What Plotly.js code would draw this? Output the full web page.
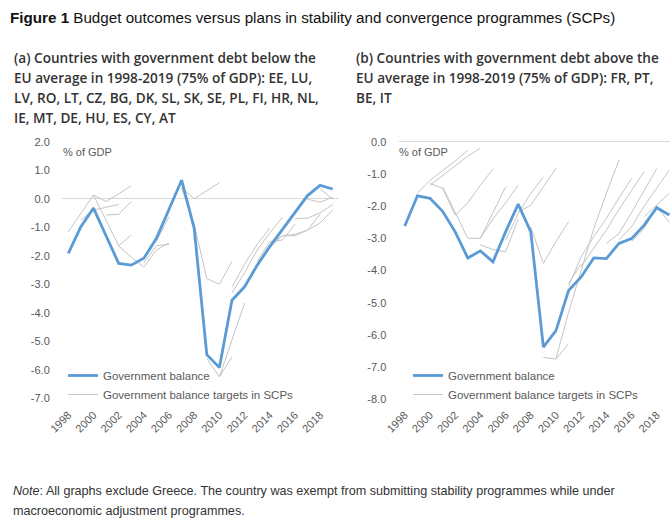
<!DOCTYPE html>
<html>
<head>
<meta charset="utf-8">
<script src="https://cdn.plot.ly/plotly-3.0.1.min.js"></script>
<style>
  html, body { margin: 0; padding: 0; background: #fff; overflow: hidden; }
  #chart { width: 670px; height: 521px; }
</style>
</head>
<body>
<div id="chart"></div>
<script>
// ---- data ----
const years = [1998,1999,2000,2001,2002,2003,2004,2005,2006,2007,2008,2009,2010,2011,2012,2013,2014,2015,2016,2017,2018,2019];
const balanceBelow = [-1.92,-0.98,-0.33,-1.28,-2.27,-2.33,-2.09,-1.39,-0.39,0.65,-1.04,-5.47,-5.92,-3.56,-3.09,-2.33,-1.68,-1.09,-0.51,0.11,0.47,0.34];
const balanceAbove = [-2.62,-1.68,-1.76,-2.16,-2.8,-3.61,-3.39,-3.73,-2.8,-1.94,-2.8,-6.38,-5.87,-4.62,-4.2,-3.61,-3.63,-3.16,-3.01,-2.59,-2.05,-2.28];

const belowTargetStart = [1998,1999,2000,2000,2001,2002,2004,2005,2007,2007,2009,2010,2011,2011,2012,2013,2014,2015,2016,2017,2018];
const belowTargetValues = [
  [-1.16,-0.5,0.13],
  [-0.75,-0.4,-0.3,-0.2],
  [0.13,-0.1,0.17,0.46],
  [0.13,-0.76,-1.65,-2.05,-2.4,-1.8,-1.55],
  [-0.57,-0.55,-0.1],
  [-1.65,-1.27],
  [-2.25,-1.65,-1.6],
  [-1.5,-0.63],
  [0.38,0.0,0.28,0.56],
  [0.38,-0.9,-2.8,-3.0,-2.2],
  [-5.6,-6.25,-5.55],
  [-6.25,-4.95,-3.66],
  [-3.3,-2.6,-1.8,-1.2,-0.65],
  [-3.1,-2.3,-1.6,-1.03],
  [-3.1,-2.4,-1.7,-1.3],
  [-2.2,-1.5,-1.45,-0.9],
  [-1.6,-1.3,-1.25,-1.1,-0.55],
  [-1.3,-1.3,-1.1,-0.85,-0.4],
  [-0.7,-0.68,-0.5,-0.2],
  [-0.02,-0.12,0.05],
  [0.35,-0.02]
];

const aboveTargetStart = [1999,2000,2000,2001,2004,2004,2006,2007,2008,2009,2010,2011,2011,2012,2014,2015,2016,2017];
const aboveTargetValues = [
  [-1.6,-1.2,-0.9,-0.6,-0.26],
  [-1.35,-1.05,-0.75,-0.45,-0.2],
  [-1.3,-1.45,-2.28,-1.9,-1.35,-0.85],
  [-1.4,-2.2,-3.0,-3.0,-2.2,-1.4],
  [-3.0,-2.4,-1.9,-1.35],
  [-3.2,-3.35,-3.42,-2.4],
  [-3.06,-2.23,-1.61,-1.09],
  [-2.18,-1.97,-1.4,-0.83],
  [-2.65,-3.78,-3.1,-2.48],
  [-6.7,-6.75,-6.27],
  [-6.73,-5.3,-4.0,-2.7,-1.6,-0.57],
  [-4.5,-3.57,-2.95,-2.38,-1.75,-1.14],
  [-4.4,-3.8],
  [-3.88,-3.3,-2.74,-2.1,-1.5,-0.93],
  [-3.16,-2.85,-2.2,-1.5,-0.83],
  [-3.05,-2.64,-2.0,-1.45,-0.88],
  [-3.1,-2.69,-2.02,-2.5],
  [-2.33,-1.97,-1.6]
];

const xTickYears = [1998,2000,2002,2004,2006,2008,2010,2012,2014,2016,2018];
const yTicksBelow = [2,1,0,-1,-2,-3,-4,-5,-6,-7];
const yTicksAbove = [0,-1,-2,-3,-4,-5,-6,-7,-8];

const seriesNames = ['Government balance', 'Government balance targets in SCPs'];

// ---- styles ----
const BLUE = '#5B9BD5';
const GREY = '#c4c4c4';
const TXT = '#595959';
const FONT = 'Liberation Sans, Arial, sans-serif';

function targetTraces(starts, vals, xa, ya, leg) {
  return vals.map((v, i) => ({
    x: v.map((_, k) => starts[i] + k),
    y: v,
    xaxis: xa, yaxis: ya,
    mode: 'lines',
    line: {color: GREY, width: 1},
    name: seriesNames[1],
    legendgroup: leg + 't',
    legend: leg,
    legendrank: 2,
    showlegend: i === 0,
    hoverinfo: 'skip'
  }));
}

const traces = [
  ...targetTraces(belowTargetStart, belowTargetValues, 'x', 'y', 'legend'),
  ...targetTraces(aboveTargetStart, aboveTargetValues, 'x2', 'y2', 'legend2'),
  {x: years, y: balanceBelow, xaxis: 'x', yaxis: 'y', mode: 'lines',
   line: {color: BLUE, width: 2.8}, name: seriesNames[0], legend: 'legend', legendrank: 1},
  {x: years, y: balanceAbove, xaxis: 'x2', yaxis: 'y2', mode: 'lines',
   line: {color: BLUE, width: 2.8}, name: seriesNames[0], legend: 'legend2', legendrank: 1}
];

const W = 670, H = 521;
const px = v => v / W;
const py = v => 1 - v / H;

function xaxisDef(domain, range) {
  return {
    domain: domain, range: range, fixedrange: true,
    showgrid: false, zeroline: false, showline: false,
    tickmode: 'array', tickvals: xTickYears, ticktext: xTickYears.map(String),
    tickangle: -45, ticks: 'outside', ticklen: 5, tickcolor: 'rgba(0,0,0,0)',
    tickfont: {family: FONT, size: 11, color: TXT}
  };
}
function yaxisDef(domain, ticks, anchor) {
  return {
    domain: domain, range: [ticks[ticks.length - 1], ticks[0]], anchor: anchor, fixedrange: true,
    showgrid: false, showline: false,
    zeroline: true, zerolinecolor: '#d9d9d9', zerolinewidth: 1,
    tickmode: 'array', tickvals: ticks, ticktext: ticks.map(v => v.toFixed(1)),
    ticks: 'outside', ticklen: 9, tickcolor: 'rgba(0,0,0,0)',
    tickfont: {family: FONT, size: 11, color: TXT}
  };
}

const subFont = {family: 'Open Sans, Noto Sans, sans-serif', size: 13.6, color: '#333', weight: 600};
function ann(text, x, y, font) {
  return {text: text, x: px(x), y: py(y), xref: 'paper', yref: 'paper',
          xanchor: 'left', yanchor: 'middle', showarrow: false, font: font, align: 'left'};
}

const layout = {
  width: W, height: H,
  margin: {l: 0, r: 0, t: 0, b: 0},
  paper_bgcolor: '#fff', plot_bgcolor: 'rgba(0,0,0,0)',
  font: {family: FONT, color: TXT},
  xaxis: xaxisDef([px(62), px(339)], [1997.5, 2019.5]),
  yaxis: yaxisDef([py(398.3), py(141.7)], yTicksBelow, 'x'),
  xaxis2: xaxisDef([px(398.5), 1], [1997.5, 2019.05]),
  yaxis2: yaxisDef([py(399.3), py(141.7)], yTicksAbove, 'x2'),
  legend: {x: px(63), y: py(361), xanchor: 'left', yanchor: 'top', bgcolor: 'rgba(0,0,0,0)',
           font: {family: FONT, size: 11.5, color: TXT}, itemwidth: 30, tracegroupgap: 0},
  legend2: {x: px(408), y: py(361), xanchor: 'left', yanchor: 'top', bgcolor: 'rgba(0,0,0,0)',
           font: {family: FONT, size: 11.5, color: TXT}, itemwidth: 30, tracegroupgap: 0},
  annotations: [
    ann('<b>Figure 1</b> Budget outcomes versus plans in stability and convergence programmes (SCPs)', 8, 18,
        {family: FONT, size: 15.2, color: '#111'}),
    ann('(a) Countries with government debt below the', 12, 58, subFont),
    ann('EU average in 1998-2019 (75% of GDP): EE, LU,', 12, 78, subFont),
    ann('LV, RO, LT, CZ, BG, DK, SL, SK, SE, PL, FI, HR, NL,', 12, 97, subFont),
    ann('IE, MT, DE, HU, ES, CY, AT', 12, 117, subFont),
    ann('(b) Countries with government debt above the', 354, 58, subFont),
    ann('EU average in 1998-2019 (75% of GDP): FR, PT,', 354, 78, subFont),
    ann('BE, IT', 354, 97, subFont),
    ann('% of GDP', 61, 152, {family: FONT, size: 11, color: TXT}),
    ann('% of GDP', 397, 152, {family: FONT, size: 11, color: TXT}),
    ann('<i>Note</i>: All graphs exclude Greece. The country was exempt from submitting stability programmes while under', 11, 491,
        {family: FONT, size: 12.6, color: '#333'}),
    ann('macroeconomic adjustment programmes.', 11, 511, {family: FONT, size: 12.6, color: '#333'})
  ],
  showlegend: true
};

Plotly.newPlot('chart', traces, layout, {staticPlot: true, displayModeBar: false});
</script>
</body>
</html>
